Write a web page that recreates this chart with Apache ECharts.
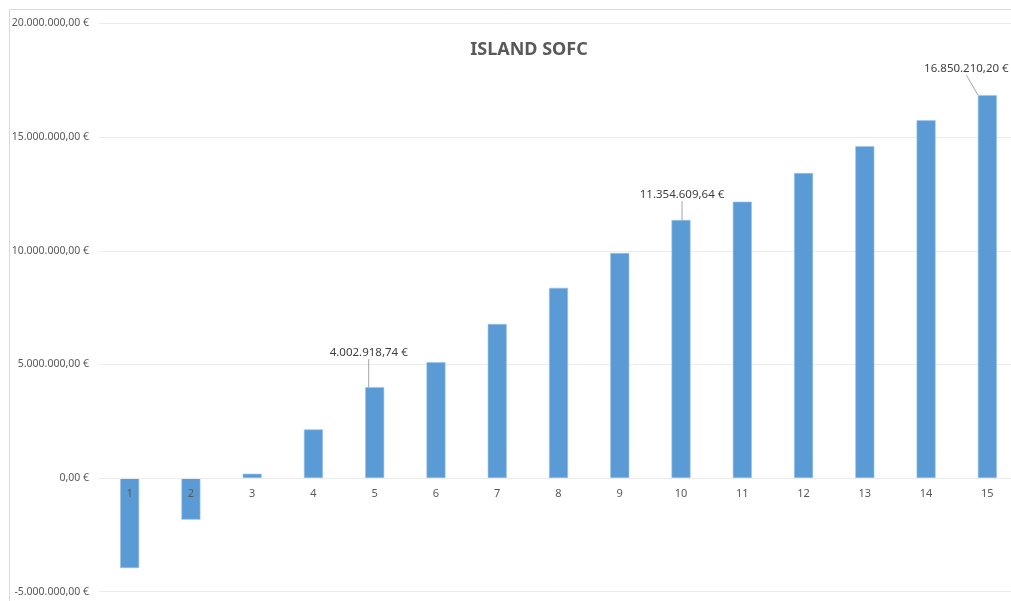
<!DOCTYPE html>
<html>
<head>
<meta charset="utf-8">
<title>ISLAND SOFC</title>
<script src="https://cdn.jsdelivr.net/npm/echarts@6/dist/echarts.min.js"></script>
<style>
  html, body { margin: 0; padding: 0; background: #fff; }
  #chart { width: 1011px; height: 601px; }
</style>
</head>
<body>
<div id="chart"></div>
<script>
// Year index of the project
const years = ['1','2','3','4','5','6','7','8','9','10','11','12','13','14','15'];
// Cumulative cash flow per year (EUR)
const cashFlow = [-3960000, -1830000, 190000, 2140000, 4002918.74, 5100000, 6780000, 8370000,
                  9900000, 11354609.64, 12160000, 13420000, 14600000, 15740000, 16850210.20];
// Years whose value is written above the bar, with the label nudge (dx, dy)
const labelledYears = { 4: [-6, -23], 9: [1, -14], 14: [-21, -15] };
// Value axis ticks
const yMin = -5000000, yMax = 20000000, yStep = 5000000;

function euro(v, decimals) {
  const fixed = Math.abs(v).toFixed(decimals);
  const parts = fixed.split('.');
  const intPart = parts[0].replace(/\B(?=(\d{3})+(?!\d))/g, '.');
  return (v < 0 ? '-' : '') + intPart + ',' + parts[1] + ' €';
}

const W = 1011, H = 601;
const grid = { left: 99, right: -7, top: 23.5, bottom: 9.3 };
// Lift the category axis from the bottom edge up to the zero line
const plotHeight = H - grid.top - grid.bottom;
const zeroLift = (0 - yMin) / (yMax - yMin) * plotHeight;

const chart = echarts.init(document.getElementById('chart'), null, { renderer: 'canvas', width: W, height: H });

const barData = cashFlow.map(function (v, i) {
  const item = { value: v };
  if (labelledYears[i]) {
    item.label = { show: true };
    item.labelLine = { show: true };
  }
  return item;
});

chart.setOption({
  animation: false,
  backgroundColor: '#ffffff',
  textStyle: { fontFamily: 'Noto Sans, sans-serif' },
  graphic: [{
    type: 'rect',
    shape: { x: 9.5, y: 9.5, width: 1100, height: 700 },
    style: { fill: 'none', stroke: '#D9D9D9', lineWidth: 1 },
    silent: true
  }],
  title: {
    text: 'ISLAND SOFC',
    left: 524,
    textAlign: 'center',
    top: 36,
    textStyle: { fontSize: 18, fontWeight: 'bold', color: '#595959', fontFamily: 'Noto Sans, sans-serif' }
  },
  grid: Object.assign({ containLabel: false, outerBoundsMode: 'none' }, grid),
  xAxis: {
    type: 'category',
    data: years,
    position: 'bottom',
    offset: -zeroLift,
    axisLine: { show: true, onZero: false, lineStyle: { color: '#EBEBEB', width: 1 } },
    axisTick: { show: false },
    axisLabel: { color: '#595959', fontSize: 11, margin: 10 },
    splitLine: { show: false },
    z: 3
  },
  yAxis: {
    type: 'value',
    min: yMin,
    max: yMax,
    interval: yStep,
    axisLine: { show: false },
    axisTick: { show: false },
    axisLabel: {
      color: '#595959',
      fontSize: 10.5,
      margin: 10,
      formatter: function (v) { return euro(v, 2); }
    },
    splitLine: { lineStyle: { color: '#EBEBEB', width: 1 } }
  },
  series: [{
    type: 'bar',
    data: barData,
    barWidth: '31%',
    itemStyle: { color: '#5B9BD5', borderColor: '#9CC3E6', borderWidth: 0.6 },
    label: {
      show: false,
      position: 'top',
      distance: 5,
      color: '#404040',
      fontSize: 11.5,
      formatter: function (p) { return euro(p.value, 2); }
    },
    labelLine: { show: false, lineStyle: { color: '#A6A6A6', width: 1 } },
    labelLayout: function (params) {
      const off = labelledYears[params.dataIndex];
      if (!off) return {};
      return { dx: off[0], dy: off[1] };
    }
  }]
});
</script>
</body>
</html>
